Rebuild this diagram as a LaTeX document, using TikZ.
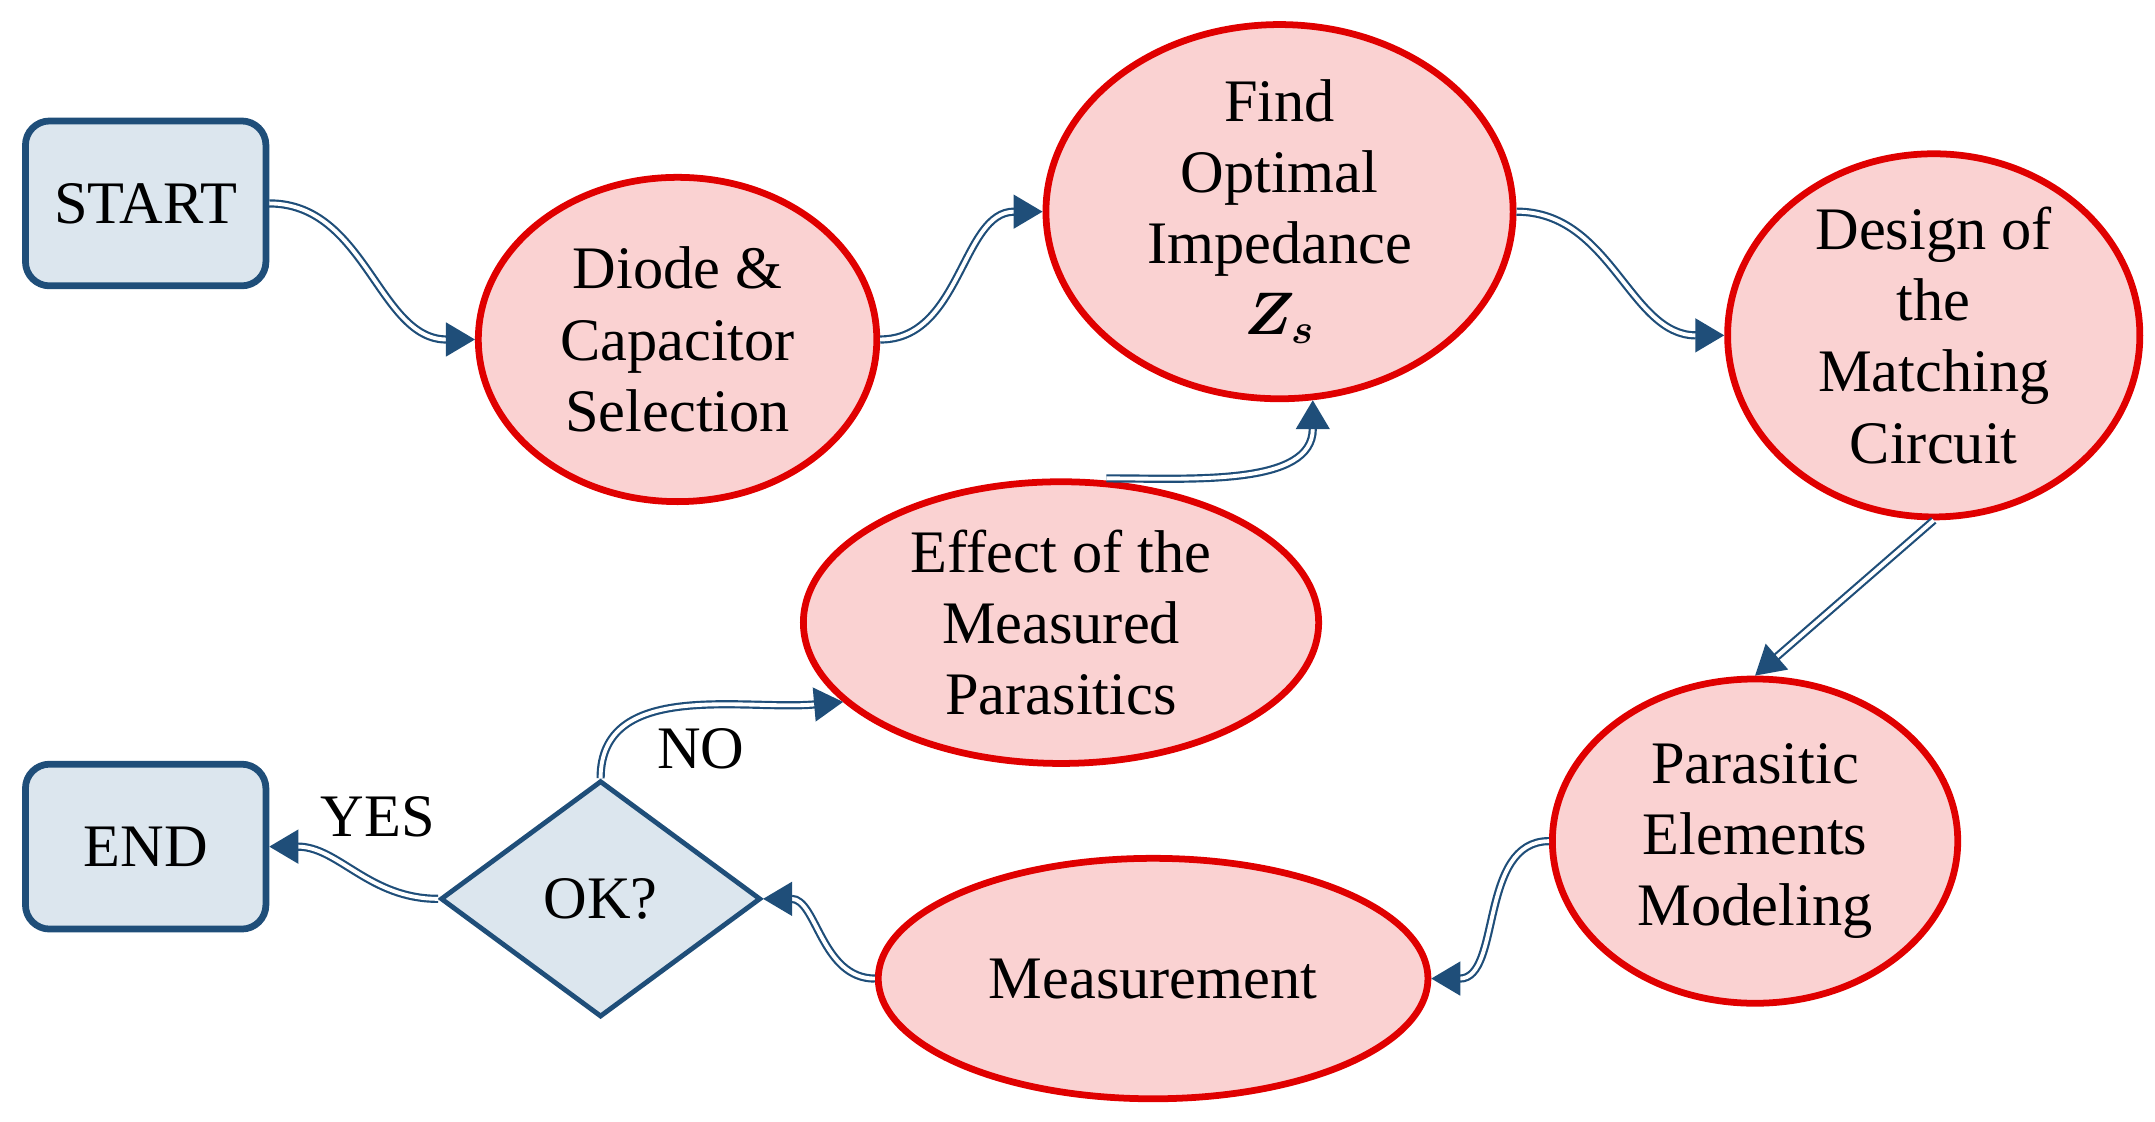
\documentclass[tikz,border=0pt]{standalone}
\usepackage{fontspec}
\setmainfont{Liberation Serif}
\usetikzlibrary{shapes.geometric,arrows.meta}
\definecolor{dblue}{HTML}{1F4E79}
\definecolor{lblue}{HTML}{DCE6EE}
\definecolor{pinkf}{HTML}{FAD2D2}
\definecolor{redb}{HTML}{E00000}
\begin{document}
\begin{tikzpicture}[x=0.02cm,y=-0.02cm,
  txt/.style={font=\fontsize{25}{29.5}\selectfont,align=center},
  ell/.style={txt,ellipse,draw=redb,fill=pinkf,line width=2.8pt,inner sep=0pt},
  box/.style={txt,rectangle,rounded corners=10pt,draw=dblue,fill=lblue,line width=2.8pt,minimum width=3.5cm,minimum height=2.4cm},
  dia/.style={txt,diamond,draw=dblue,fill=lblue,line width=2pt,minimum width=4.66cm,minimum height=3.44cm,inner sep=0pt},
  con/.style={draw=dblue,double=white,double distance=1.6pt,line width=0.9pt,-{Triangle[length=12pt,width=14pt,fill=dblue]}},
  lab/.style={font=\fontsize{25}{29.5}\selectfont}]
\useasboundingbox (0,0) rectangle (1568,816);
\node[box] (start) at (106,148) {START};
\node[box] (end) at (106,616) {END};
\node[ell,minimum width=5.8cm,minimum height=4.72cm] (diode) at (493,247) {Diode \&\\Capacitor\\Selection};
\node[ell,minimum width=6.8cm,minimum height=5.2cm] (find) at (931,154) {Find\\Optimal\\Impedance\\{\boldmath$Z_s$}};
\node[ell,minimum width=6cm,minimum height=4.72cm] (design) at (1407,244) {Design of\\the\\Matching\\Circuit};
\node[ell,minimum width=7.5cm,minimum height=4.1cm] (effect) at (772,453) {Effect of the\\Measured\\Parasitics};
\node[ell,minimum width=5.9cm,minimum height=4.72cm] (paras) at (1277,612) {Parasitic\\Elements\\Modeling};
\node[ell,minimum width=8cm,minimum height=3.5cm] (meas) at (839,712) {Measurement};
\node[dia] (ok) at (437,654) {OK?};
\node[lab] (yes) at (275,594) {YES};
\node[lab] (no) at (510,545) {NO};
\draw[con] (start.east) to[out=0,in=180] (diode.west);
\draw[con] (diode.east) to[out=0,in=180] (find.west);
\draw[con] (find.east) to[out=0,in=180] (design.west);
\draw[con] (design.south) -- (paras.north);
\draw[con] (paras.west) to[out=180,in=0] (meas.east);
\draw[con] (meas.west) to[out=180,in=0] (ok.east);
\draw[con] (ok.west) to[out=180,in=0] (end.east);
\draw[con] (ok.north) to[out=90,in=185] (effect.200);
\draw[con] (effect.north) ++(33,0) coordinate (ef) (ef) to[out=0,in=-90] (find.-80);
\end{tikzpicture}
\end{document}
